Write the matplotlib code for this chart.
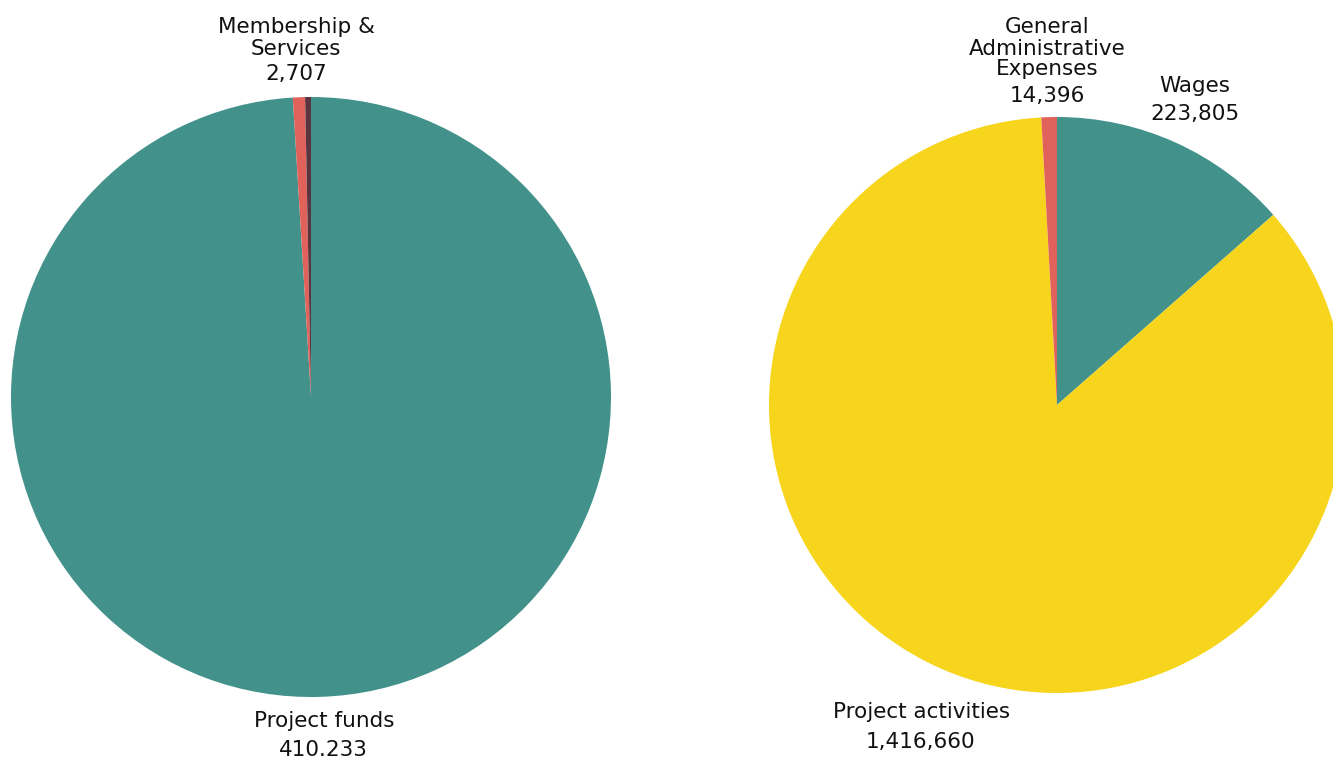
import matplotlib.pyplot as plt

# left pie: income
income_labels = ["Project funds", "Membership & Services", "Other"]
income_values = [410233, 2707, 1300]
income_colors = ["#42928b", "#e0625a", "#5a3540"]

# right pie: expenses
expense_labels = ["Wages", "Project activities", "General Administrative Expenses"]
expense_values = [223805, 1416660, 14396]
expense_colors = ["#42928b", "#f7d51d", "#e0625a"]

W, H = 1333, 758
plt.rcParams["font.family"] = ["DejaVu Sans"]

fig = plt.figure(figsize=(W / 100, H / 100), dpi=100)
ax = fig.add_axes([0, 0, 1, 1])
ax.set_xlim(0, W)
ax.set_ylim(0, H)
ax.set_aspect("equal")
ax.axis("off")

ax.pie(income_values, colors=income_colors, startangle=90, counterclock=False,
       center=(311, H - 397), radius=300, wedgeprops=dict(linewidth=0))
ax.pie(expense_values, colors=expense_colors, startangle=90, counterclock=False,
       center=(1057, H - 405), radius=288, wedgeprops=dict(linewidth=0))
ax.set_xlim(0, W)
ax.set_ylim(0, H)


def txt(x, y, s):
    # y is the baseline, in pixels from the top
    ax.text(x, H - y, s, ha="center", va="baseline", fontsize=15.5, color="#111111")


txt(296, 33, "Membership &")
txt(296, 55, "Services")
txt(296, 80, "2,707")

txt(324, 727, "Project funds")
txt(323, 756, "410.233")

txt(1047, 33, "General")
txt(1047, 55, "Administrative")
txt(1047, 75, "Expenses")
txt(1047, 102, "14,396")

txt(1195, 92, "Wages")
txt(1195, 120, "223,805")

txt(922, 718, "Project activities")
txt(921, 748, "1,416,660")

fig.savefig("out.png", dpi=100)
